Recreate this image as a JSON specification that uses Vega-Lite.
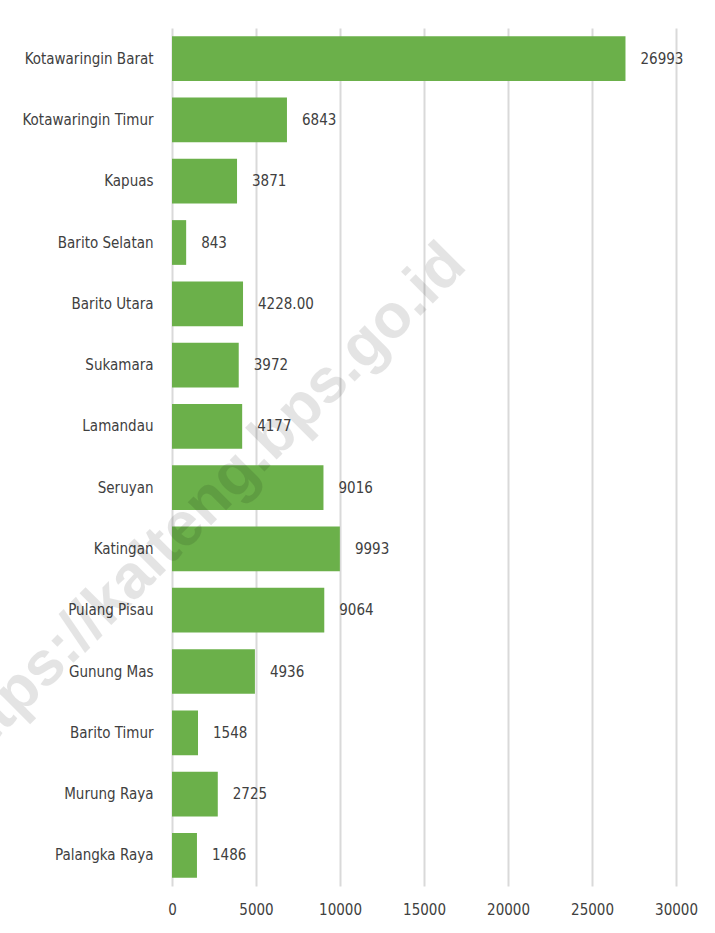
{
  "$schema": "https://vega.github.io/schema/vega-lite/v6.json",
  "width": 504,
  "height": 858,
  "autosize": {"type": "none"},
  "padding": {"left": 172, "top": 28, "right": 39, "bottom": 47},
  "background": "white",
  "config": {
    "view": {"stroke": null},
    "font": "DejaVu Sans Condensed, Roboto, sans-serif",
    "axis": {"labelFont": "DejaVu Sans Condensed, Roboto, sans-serif", "labelColor": "#404040", "labelFontSize": 15}
  },
  "data": {
    "values": [
      {"wilayah": "Kotawaringin Barat", "nilai": 26993, "label": "26993"},
      {"wilayah": "Kotawaringin Timur", "nilai": 6843, "label": "6843"},
      {"wilayah": "Kapuas", "nilai": 3871, "label": "3871"},
      {"wilayah": "Barito Selatan", "nilai": 843, "label": "843"},
      {"wilayah": "Barito Utara", "nilai": 4228, "label": "4228.00"},
      {"wilayah": "Sukamara", "nilai": 3972, "label": "3972"},
      {"wilayah": "Lamandau", "nilai": 4177, "label": "4177"},
      {"wilayah": "Seruyan", "nilai": 9016, "label": "9016"},
      {"wilayah": "Katingan", "nilai": 9993, "label": "9993"},
      {"wilayah": "Pulang Pisau", "nilai": 9064, "label": "9064"},
      {"wilayah": "Gunung Mas", "nilai": 4936, "label": "4936"},
      {"wilayah": "Barito Timur", "nilai": 1548, "label": "1548"},
      {"wilayah": "Murung Raya", "nilai": 2725, "label": "2725"},
      {"wilayah": "Palangka Raya", "nilai": 1486, "label": "1486"}
    ]
  },
  "layer": [
    {
      "mark": {"type": "bar", "color": "#6BB04A"},
      "encoding": {
        "y": {
          "field": "wilayah",
          "type": "nominal",
          "sort": null,
          "scale": {"paddingInner": 0.27, "paddingOuter": 0.135},
          "axis": {"title": null, "domain": false, "ticks": false, "labelPadding": 19, "grid": false}
        },
        "x": {
          "field": "nilai",
          "type": "quantitative",
          "scale": {"domain": [0, 30000], "nice": false},
          "axis": {
            "title": null,
            "domain": false,
            "ticks": false,
            "values": [0, 5000, 10000, 15000, 20000, 25000, 30000],
            "format": "d",
            "labelPadding": 16,
            "labelFontSize": 15,
            "grid": true,
            "gridColor": "#d9d9d9",
            "gridWidth": 2,
            "labelFlush": false
          }
        }
      }
    },
    {
      "mark": {"type": "text", "align": "left", "baseline": "middle", "dx": 15, "fontSize": 15, "color": "#404040"},
      "encoding": {
        "y": {"field": "wilayah", "type": "nominal", "sort": null},
        "x": {"field": "nilai", "type": "quantitative"},
        "text": {"field": "label"}
      }
    },
    {
      "data": {"values": [{"teks": "https://kalteng.bps.go.id", "posisi": 600, "baris": "Seruyan"}]},
      "mark": {"type": "text", "align": "center", "baseline": "middle", "angle": -45, "font": "Liberation Sans", "fontWeight": "bold", "fontSize": 62, "color": "#000000", "opacity": 0.1, "dy": 28},
      "encoding": {
        "text": {"field": "teks"},
        "x": {"field": "posisi", "type": "quantitative"},
        "y": {"field": "baris", "type": "nominal", "sort": null}
      }
    }
  ]
}
